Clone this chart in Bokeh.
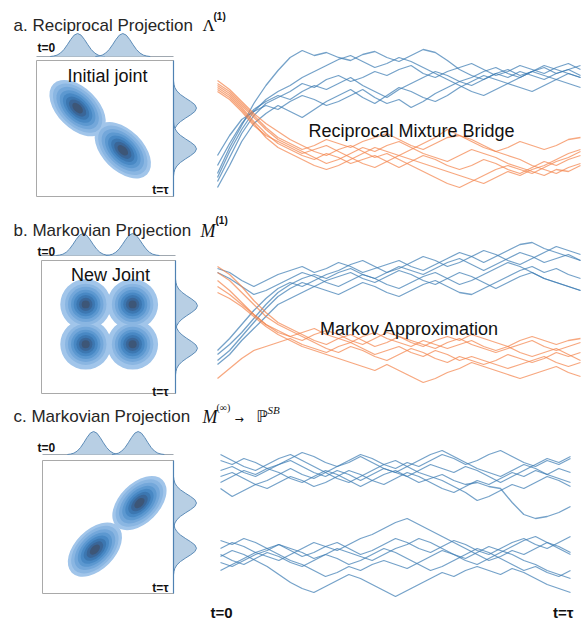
import numpy as np
from bokeh.plotting import figure
from bokeh.models import Range1d, Label
from bokeh.embed import file_html
from bokeh.resources import INLINE

# ---------------- data ----------------
# trajectory heights (panel units, 0 = bottom of panel), 31 time steps t=0..tau
A_BLUE = [
    [22, 48, 70, 92, 110, 125, 138, 145, 140, 143, 138, 135, 141, 144, 138, 134, 140, 146, 143, 135, 126, 120, 116, 122, 126, 120, 124, 128, 122, 126, 120],
    [14, 38, 62, 80, 92, 98, 104, 112, 108, 116, 120, 114, 118, 124, 120, 126, 130, 122, 118, 124, 128, 132, 126, 120, 124, 130, 126, 122, 128, 132, 126],
    [30, 52, 72, 86, 94, 100, 96, 104, 110, 106, 112, 118, 110, 104, 98, 106, 112, 118, 124, 120, 114, 118, 124, 128, 122, 118, 124, 130, 126, 122, 118],
    [40, 60, 76, 84, 90, 86, 94, 100, 96, 90, 94, 100, 106, 98, 92, 96, 88, 94, 102, 108, 114, 110, 116, 122, 118, 124, 120, 116, 122, 126, 130],
    [8, 30, 54, 72, 82, 90, 84, 78, 86, 94, 100, 106, 98, 92, 100, 108, 104, 98, 94, 100, 108, 114, 120, 116, 112, 118, 124, 120, 116, 122, 118],
    [18, 44, 66, 84, 96, 104, 110, 118, 124, 130, 136, 140, 134, 128, 132, 138, 134, 128, 122, 116, 110, 104, 100, 106, 112, 108, 104, 110, 116, 112, 108],
]
A_ORANGE = [
    [112, 104, 92, 80, 68, 58, 52, 46, 50, 56, 52, 48, 54, 58, 62, 56, 50, 46, 52, 58, 60, 56, 50, 44, 48, 54, 50, 46, 50, 56, 58],
    [108, 100, 88, 74, 62, 52, 46, 40, 36, 42, 38, 32, 36, 40, 34, 28, 34, 40, 36, 30, 26, 30, 36, 32, 26, 22, 28, 34, 30, 36, 40],
    [115, 106, 94, 82, 72, 64, 56, 50, 44, 40, 46, 50, 44, 38, 42, 36, 30, 24, 18, 12, 8, 14, 20, 26, 30, 26, 22, 28, 34, 38, 44],
    [104, 96, 84, 70, 60, 54, 48, 42, 46, 50, 44, 38, 32, 28, 34, 40, 46, 52, 58, 66, 60, 54, 48, 44, 40, 36, 30, 26, 22, 28, 32],
    [110, 102, 90, 78, 66, 56, 50, 44, 38, 32, 36, 42, 48, 44, 50, 54, 48, 42, 38, 34, 40, 46, 42, 38, 32, 28, 24, 20, 26, 24, 30],
    [106, 98, 86, 72, 58, 48, 42, 36, 30, 26, 30, 36, 42, 48, 44, 40, 36, 32, 28, 24, 20, 16, 12, 18, 24, 20, 26, 30, 36, 42, 46],
]
B_BLUE = [
    [122, 118, 110, 104, 110, 116, 120, 124, 118, 122, 128, 124, 118, 122, 126, 130, 124, 120, 126, 132, 138, 134, 128, 134, 140, 146, 148, 142, 138, 134, 130],
    [118, 112, 104, 96, 100, 106, 112, 118, 114, 108, 104, 110, 116, 112, 106, 102, 108, 114, 118, 112, 106, 110, 116, 122, 128, 124, 118, 112, 108, 104, 100],
    [36, 46, 58, 72, 86, 98, 106, 112, 116, 112, 118, 122, 116, 112, 118, 124, 120, 116, 122, 128, 132, 126, 120, 126, 132, 138, 134, 128, 132, 136, 130],
    [30, 40, 54, 68, 82, 94, 102, 108, 104, 110, 114, 118, 112, 108, 114, 120, 116, 110, 106, 112, 118, 114, 108, 102, 108, 114, 118, 112, 108, 104, 100],
    [26, 36, 50, 62, 74, 86, 92, 98, 104, 100, 96, 102, 108, 104, 98, 94, 100, 106, 110, 104, 98, 96, 102, 108, 114, 120, 124, 118, 122, 116, 112],
    [40, 52, 66, 80, 92, 102, 108, 104, 110, 116, 120, 126, 130, 124, 118, 122, 128, 134, 130, 124, 128, 134, 140, 136, 130, 126, 132, 138, 144, 140, 136],
]
B_ORANGE = [
    [124, 116, 104, 90, 78, 68, 62, 56, 50, 46, 52, 56, 50, 44, 48, 54, 50, 46, 42, 48, 52, 46, 42, 38, 42, 46, 50, 44, 40, 44, 48],
    [104, 96, 86, 76, 66, 58, 54, 50, 56, 60, 56, 50, 46, 52, 58, 54, 48, 44, 50, 54, 50, 56, 52, 48, 44, 50, 54, 50, 46, 50, 52],
    [98, 92, 84, 74, 64, 56, 50, 44, 40, 36, 32, 28, 24, 20, 26, 20, 14, 8, 12, 18, 22, 28, 24, 20, 16, 12, 16, 20, 24, 18, 14],
    [12, 22, 32, 40, 44, 48, 52, 46, 42, 38, 44, 48, 42, 36, 40, 44, 38, 34, 40, 36, 30, 34, 30, 26, 22, 26, 30, 34, 28, 24, 28],
    [110, 100, 88, 76, 66, 60, 54, 58, 62, 56, 52, 48, 54, 58, 52, 48, 44, 50, 46, 42, 46, 50, 44, 40, 44, 38, 34, 38, 42, 36, 30],
    [118, 110, 98, 86, 74, 66, 60, 54, 48, 42, 38, 44, 40, 34, 30, 36, 42, 38, 32, 28, 34, 30, 26, 30, 36, 32, 28, 32, 38, 34, 38],
]
C_UPPER = [
    [140, 136, 142, 138, 132, 136, 142, 148, 144, 138, 134, 140, 146, 142, 136, 132, 138, 134, 140, 146, 142, 136, 140, 146, 150, 144, 138, 134, 140, 136, 142],
    [130, 134, 128, 124, 130, 136, 140, 134, 128, 124, 130, 126, 120, 126, 132, 128, 124, 118, 122, 126, 120, 116, 118, 114, 112, 98, 86, 82, 84, 88, 94],
    [112, 104, 110, 116, 112, 118, 124, 120, 114, 118, 124, 130, 126, 120, 116, 122, 128, 124, 118, 112, 108, 114, 120, 116, 122, 128, 124, 130, 126, 132, 128],
    [146, 140, 134, 130, 136, 142, 146, 140, 134, 128, 122, 118, 124, 130, 136, 140, 134, 128, 124, 120, 114, 108, 100, 104, 110, 116, 112, 118, 124, 120, 114],
    [124, 128, 122, 116, 120, 126, 132, 126, 122, 128, 134, 138, 144, 138, 132, 128, 134, 140, 146, 150, 144, 138, 132, 128, 124, 130, 136, 132, 126, 122, 118],
    [118, 124, 130, 126, 132, 128, 122, 118, 124, 130, 126, 120, 114, 120, 126, 130, 124, 130, 136, 132, 128, 134, 130, 124, 118, 124, 130, 136, 142, 138, 144],
]
C_LOWER = [
    [60, 56, 62, 58, 52, 56, 50, 44, 48, 54, 58, 52, 46, 50, 56, 62, 58, 52, 48, 54, 60, 56, 50, 46, 52, 58, 62, 56, 52, 58, 64],
    [44, 50, 46, 40, 34, 26, 18, 12, 8, 14, 20, 26, 22, 16, 10, 4, 10, 16, 22, 28, 24, 30, 34, 30, 26, 32, 28, 22, 16, 12, 8],
    [30, 36, 42, 48, 44, 40, 46, 52, 58, 54, 50, 56, 62, 66, 72, 78, 82, 76, 70, 64, 58, 52, 46, 40, 44, 50, 46, 52, 58, 54, 48],
    [52, 58, 54, 48, 52, 46, 40, 36, 30, 24, 28, 34, 30, 36, 40, 36, 32, 38, 44, 50, 46, 42, 48, 54, 50, 46, 40, 36, 30, 26, 22],
    [38, 34, 40, 46, 50, 56, 52, 48, 42, 46, 52, 48, 44, 40, 46, 52, 56, 62, 58, 52, 46, 40, 36, 42, 48, 54, 60, 64, 58, 52, 46],
    [46, 40, 36, 42, 48, 44, 38, 34, 40, 46, 42, 36, 40, 46, 52, 48, 42, 36, 30, 34, 40, 46, 52, 48, 42, 36, 30, 34, 28, 24, 30],
]

# joint-density components (centres in unit box), nested level sizes, marginal bump profile
A_CX, A_CY = [0.30, 0.63], [0.65, 0.34]
B_CX, B_CY = [0.33, 0.68, 0.33, 0.68], [0.67, 0.67, 0.37, 0.37]
C_CX, C_CY = [0.40, 0.74], [0.33, 0.68]
A_TOP, A_RIGHT = [0.30, 0.63], [0.65, 0.35]
B_TOP, B_RIGHT = [0.31, 0.68], [0.66, 0.34]
C_TOP, C_RIGHT = [0.39, 0.73], [0.68, 0.34]
DIAG_W = [0.50, 0.44, 0.38, 0.32, 0.265, 0.21, 0.155, 0.095]
DIAG_H = [0.30, 0.26, 0.22, 0.185, 0.15, 0.118, 0.087, 0.055]
ROUND_D = [0.38, 0.31, 0.265, 0.22, 0.18, 0.14, 0.10, 0.06]
BUMP_OFFSETS = [-0.20, -0.175, -0.15, -0.125, -0.10, -0.075, -0.05, -0.025, 0.0, 0.025, 0.05, 0.075, 0.10, 0.125, 0.15, 0.175, 0.20]
BUMP_HEIGHTS = [0.0, 0.02, 0.06, 0.15, 0.30, 0.51, 0.74, 0.93, 1.0, 0.93, 0.74, 0.51, 0.30, 0.15, 0.06, 0.02, 0.0]

LEVEL_COLORS = ["#a1c5ea", "#8ab6e2", "#73a7da", "#5c98d0", "#4888c4", "#3c77b1", "#3a6698", "#3d5677"]

BLUE = "#3a7ab2"
ORANGE = "#f4834a"

# ---------------- figure ----------------
W, H = 582, 622
OX, OY = 0, 0
p = figure(width=W, height=H, x_range=Range1d(OX, OX + W), y_range=Range1d(OY + H, OY),
           output_backend="svg", toolbar_location=None, min_border=0,
           x_axis_location=None, y_axis_location=None)
p.grid.visible = False
p.outline_line_color = None
p.background_fill_color = "white"
p.border_fill_color = "white"


def xr(d0, d1, p0, p1):
    s = (d1 - d0) / (p1 - p0)
    start = d0 - (p0 - OX) * s
    return Range1d(start, start + W * s)


def yr(d0, d1, top, bottom):
    s = (d1 - d0) / (bottom - top)
    end = d1 + (top - OY) * s
    return Range1d(end - H * s, end)


def label(x, y, text, size, font="Liberation Sans", style="normal", color="#262626", align="left"):
    p.add_layout(Label(x=x, y=y, text=text, text_font=font, text_font_size=size,
                       text_font_style=style, text_color=color, text_align=align,
                       text_baseline="alphabetic"))


def joint_row(name, box, top_px, right_px, cx, cy, widths, heights, angle, top_means, right_means):
    jx, jy, my, mx = name + "_jx", name + "_jy", name + "_my", name + "_mx"
    x0, x1, y0, y1 = box
    p.extra_x_ranges[jx] = xr(0, 1, x0, x1)
    p.extra_y_ranges[jy] = yr(0, 1, y0, y1)
    p.extra_y_ranges[my] = yr(0, 1, top_px[0], top_px[1])
    p.extra_x_ranges[mx] = xr(0, 1, right_px[0], right_px[1])
    # frame of the joint panel
    p.quad(left=[0], right=[1], bottom=[0], top=[1], fill_color=None, line_color="#a9a9a9",
           line_width=1, x_range_name=jx, y_range_name=jy)
    # nested density levels
    for w, h, col in zip(widths, heights, LEVEL_COLORS):
        p.ellipse(x=cx, y=cy, width=w, height=h, angle=angle,
                  fill_color=col, line_color=None, x_range_name=jx, y_range_name=jy)
    offs = np.array(BUMP_OFFSETS)
    hts = np.array(BUMP_HEIGHTS)
    # top marginal
    p.line(x=[0, 1], y=[0, 0], line_color="#a0a8b0", line_width=1.2, x_range_name=jx, y_range_name=my)
    for m in top_means:
        p.varea(x=m + offs, y1=np.zeros_like(hts), y2=hts, fill_color="#b8cfe4",
                x_range_name=jx, y_range_name=my)
        p.line(x=m + offs, y=hts, line_color="#5d8cb8", line_width=1, x_range_name=jx, y_range_name=my)
    # right marginal
    for m in right_means:
        p.harea(y=m + offs, x1=np.zeros_like(hts), x2=hts, fill_color="#b8cfe4",
                x_range_name=mx, y_range_name=jy)
        p.line(x=hts, y=m + offs, line_color="#5d8cb8", line_width=1, x_range_name=mx, y_range_name=jy)
    p.line(x=[0, 0], y=[0, 1], line_color="#4f82b3", line_width=1.2, x_range_name=mx, y_range_name=jy)


def traj(name, xbox, ybox, vmax, groups):
    tx, ty = name + "_tx", name + "_ty"
    p.extra_x_ranges[tx] = xr(0, 1, xbox[0], xbox[1])
    p.extra_y_ranges[ty] = yr(0, vmax, ybox[0], ybox[1])
    for paths, col in groups:
        xs = [[i / (len(v) - 1) for i in range(len(v))] for v in paths]
        p.multi_line(xs=xs, ys=paths, line_color=col, line_alpha=0.7, line_width=1.3,
                     x_range_name=tx, y_range_name=ty)


d45 = np.pi / 4
joint_row("a", (36, 173, 60, 196), (33, 56), (173, 196), A_CX, A_CY, DIAG_W, DIAG_H, -d45, A_TOP, A_RIGHT)
joint_row("b", (41, 175, 260, 393), (233, 255), (175, 197), B_CX, B_CY, ROUND_D, ROUND_D, 0, B_TOP, B_RIGHT)
joint_row("c", (42, 173, 460, 593), (431, 454), (173, 196), C_CX, C_CY, DIAG_W, DIAG_H, d45, C_TOP, C_RIGHT)

traj("a", (217, 580), (25, 195), 170, [(A_BLUE, BLUE), (A_ORANGE, ORANGE)])
traj("b", (217, 580), (225, 390), 165, [(B_BLUE, BLUE), (B_ORANGE, ORANGE)])
traj("c", (220, 570), (420, 600), 180, [(C_UPPER, BLUE), (C_LOWER, BLUE)])

# ---------------- texts ----------------
label(13, 25, "a. Reciprocal Projection", "17px")
label(202, 25, "Λ", "17px", font="Liberation Serif", color="#111111")
label(213, 16, "(1)", "10px", style="bold", color="#111111")

label(13, 230, "b. Markovian Projection", "17px")
label(200, 230, "M", "18px", font="Liberation Serif", style="italic", color="#111111")
label(215, 220, "(1)", "10px", style="bold", color="#111111")

label(13, 416, "c. Markovian Projection", "17px")
label(202, 416, "M", "18px", font="Liberation Serif", style="italic", color="#111111")
label(216, 407, "(∞)", "10px", font="Liberation Serif", color="#111111")
label(234, 419, "→", "11px", font="DejaVu Sans", color="#111111")
label(256, 416, "ℙ", "16px", font="DejaVu Sans", color="#111111")
label(267, 409, "SB", "11px", font="Liberation Serif", style="italic", color="#111111")

for y in (47, 251, 447):
    label(37, y, "t=0", "12px", style="bold", color="#111111")
for y in (189, 391, 587):
    label(168, y, "t=τ", "12px", style="bold", color="#111111", align="right")

label(107, 75, "Initial joint", "18px", color="#111111", align="center")
label(110, 274, "New Joint", "18px", color="#111111", align="center")
label(411, 130, "Reciprocal Mixture Bridge", "18px", color="#111111", align="center")
label(409, 328, "Markov Approximation", "18px", color="#111111", align="center")

label(210, 612, "t=0", "15px", style="bold", color="#111111")
label(573, 612, "t=τ", "15px", style="bold", color="#111111", align="right")

open("out.html", "w").write(file_html(p, INLINE))
